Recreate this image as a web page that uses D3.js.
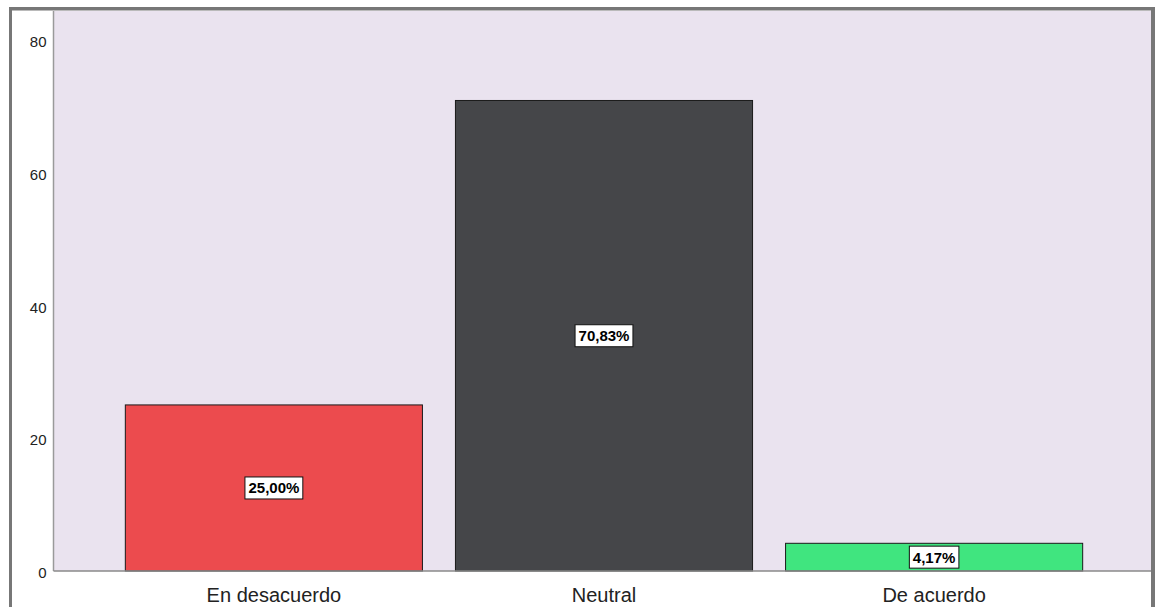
<!DOCTYPE html>
<html>
<head>
<meta charset="utf-8">
<script src="https://cdn.jsdelivr.net/npm/d3@7"></script>
<style>
  html, body { margin: 0; padding: 0; background: #ffffff; }
  svg { display: block; }
</style>
</head>
<body>
<svg id="chart" width="1155" height="607"></svg>
<script>
// Response categories and their share of answers (%)
const categories = ["En desacuerdo", "Neutral", "De acuerdo"];
const values = [25.00, 70.83, 4.17];
const barColors = ["#ec4b4e", "#454649", "#40e57f"];
const yTicks = [0, 20, 40, 60, 80];

const W = 1155, H = 607;
const plot = { left: 53.5, right: 1151, top: 11, bottom: 571 };

const svg = d3.select("#chart");

// Comma decimal separator for the percentage labels
const locale = d3.formatLocale({ decimal: ",", thousands: ".", grouping: [3], currency: ["", "€"] });
const fmt = locale.format(".2f");

const x = d3.scaleBand()
  .domain(categories)
  .range([56, 1152])
  .paddingInner(0.1)
  .paddingOuter(0.21);

const y = d3.scaleLinear()
  .domain([0, 84.3])
  .range([plot.bottom, plot.top]);

// Plot background
svg.append("rect")
  .attr("x", plot.left).attr("y", plot.top)
  .attr("width", plot.right - plot.left).attr("height", plot.bottom - plot.top)
  .attr("fill", "#eae3ef");

// Y axis (labels only, no tick marks)
const yAxis = svg.append("g")
  .attr("transform", `translate(${plot.left},0)`)
  .call(d3.axisLeft(y).tickValues(yTicks).tickSize(0).tickPadding(7));
yAxis.select(".domain").remove();
yAxis.selectAll("text")
  .attr("font-family", "'Liberation Sans', Arial, sans-serif")
  .attr("font-size", 15)
  .attr("fill", "#222")
  .attr("dy", "0.45em");

// Axis lines
svg.append("line")
  .attr("x1", plot.left).attr("x2", plot.left)
  .attr("y1", plot.top).attr("y2", plot.bottom)
  .attr("stroke", "#9a9a9a").attr("stroke-width", 1.5);

// Bars
svg.append("g").selectAll("rect")
  .data(values)
  .join("rect")
  .attr("x", (d, i) => x(categories[i]))
  .attr("y", d => y(d))
  .attr("width", x.bandwidth())
  .attr("height", d => y(0) - y(d))
  .attr("fill", (d, i) => barColors[i])
  .attr("stroke", "#1a1a1a")
  .attr("stroke-width", 1);

svg.append("line")
  .attr("x1", plot.left).attr("x2", plot.right)
  .attr("y1", plot.bottom).attr("y2", plot.bottom)
  .attr("stroke", "#8a8a8a").attr("stroke-width", 1.5);

// X axis category labels
const xAxis = svg.append("g")
  .attr("transform", `translate(0,${plot.bottom})`)
  .call(d3.axisBottom(x).tickSize(0).tickPadding(0));
xAxis.select(".domain").remove();
xAxis.selectAll("text")
  .attr("font-family", "'Liberation Sans', Arial, sans-serif")
  .attr("font-size", 20)
  .attr("fill", "#222")
  .attr("dy", null)
  .attr("y", 31);

// Value labels in white boxes at the middle of each bar
const labels = svg.append("g").selectAll("g")
  .data(values)
  .join("g")
  .attr("transform", (d, i) => `translate(${x(categories[i]) + x.bandwidth() / 2},${(y(d) + y(0)) / 2})`);

labels.each(function (d) {
  const g = d3.select(this);
  const t = g.append("text")
    .attr("text-anchor", "middle")
    .attr("dy", "0.36em")
    .attr("font-family", "'Liberation Sans', Arial, sans-serif")
    .attr("font-weight", "bold")
    .attr("font-size", 15)
    .attr("fill", "#000")
    .text(fmt(d) + "%");
  const bb = t.node().getBBox();
  g.insert("rect", "text")
    .attr("x", -bb.width / 2 - 3.5)
    .attr("y", -11)
    .attr("width", bb.width + 7)
    .attr("height", 22)
    .attr("fill", "#ffffff")
    .attr("stroke", "#111")
    .attr("stroke-width", 1);
});

// Outer frame
svg.append("rect").attr("x", 9).attr("y", 7).attr("width", 3).attr("height", H - 7).attr("fill", "#777");
svg.append("rect").attr("x", 9).attr("y", 7).attr("width", W - 9).attr("height", 3.5).attr("fill", "#777");
svg.append("rect").attr("x", 1151).attr("y", 7).attr("width", 4).attr("height", H - 7).attr("fill", "#777");
</script>
</body>
</html>
